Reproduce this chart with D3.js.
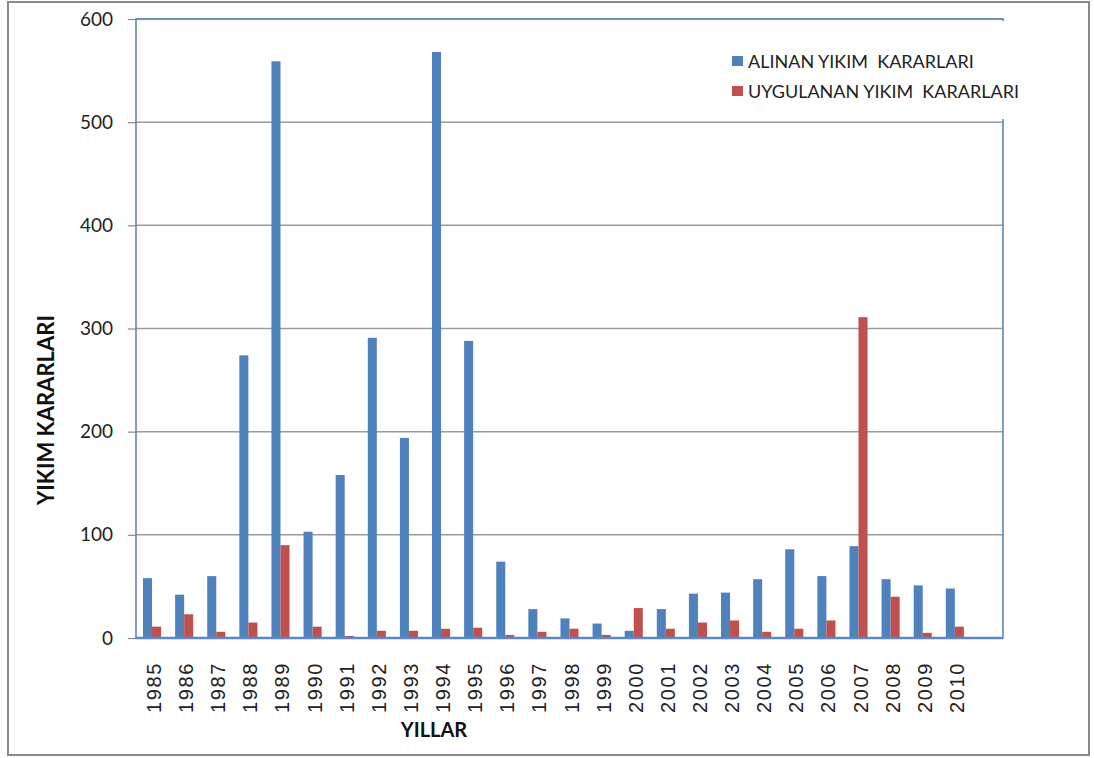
<!DOCTYPE html>
<html>
<head>
<meta charset="utf-8">
<script src="https://cdn.jsdelivr.net/npm/d3@7/dist/d3.min.js"></script>
<style>
  html, body { margin: 0; padding: 0; background: #fff; }
  svg { display: block; }
</style>
</head>
<body>
<svg id="chart" width="1094" height="758"></svg>
<script>
// Demolition decisions per year
const years = [1985, 1986, 1987, 1988, 1989, 1990, 1991, 1992, 1993, 1994, 1995, 1996, 1997,
               1998, 1999, 2000, 2001, 2002, 2003, 2004, 2005, 2006, 2007, 2008, 2009, 2010];
const alinan = [58, 42, 60, 274, 559, 103, 158, 291, 194, 568, 288, 74, 28,
                19, 14, 7, 28, 43, 44, 57, 86, 60, 89, 57, 51, 48];
const uygulanan = [11, 23, 6, 15, 90, 11, 2, 7, 7, 9, 10, 3, 6,
                   9, 3, 29, 9, 15, 17, 6, 9, 17, 311, 40, 5, 11];
const seriesNames = ["ALINAN YIKIM  KARARLARI", "UYGULANAN YIKIM  KARARLARI"];
const seriesColors = ["#4f81bd", "#c0504d"];
const yTicks = [0, 100, 200, 300, 400, 500, 600];

const svg = d3.select("#chart");
const plot = { left: 136, top: 19, right: 1003, bottom: 638 };

// outer frame
svg.append("rect")
  .attr("x", 8).attr("y", 2).attr("width", 1081).attr("height", 753)
  .attr("fill", "#fff").attr("stroke", "#8a8a8a").attr("stroke-width", 2);

// one trailing empty slot after the last year
const slots = [...years.map(String), "_"];
const x = d3.scaleBand().domain(slots)
  .range([plot.left, plot.right])
  .paddingInner(0.437).paddingOuter(0.218);
const xs = d3.scaleBand().domain([0, 1]).range([0, x.bandwidth()]);
const y = d3.scaleLinear().domain([0, 600]).range([plot.bottom, plot.top]);

// gridlines
svg.append("g").selectAll("line").data(yTicks.filter(t => t > 0)).join("line")
  .attr("x1", plot.left).attr("x2", plot.right)
  .attr("y1", d => y(d)).attr("y2", d => y(d))
  .attr("stroke", "#9a9a9a").attr("stroke-width", 1.5);

// y axis ticks and labels
const yAxis = d3.axisLeft(y).tickValues(yTicks).tickSize(8).tickPadding(15);
const gy = svg.append("g").attr("transform", `translate(${plot.left},0)`).call(yAxis);
gy.select(".domain").remove();
gy.selectAll(".tick line").attr("stroke", "#8a8a8a").attr("stroke-width", 1.2);
gy.selectAll(".tick text")
  .attr("font-family", "Lato, 'Open Sans', sans-serif")
  .attr("font-size", 19).attr("fill", "#222");

// bars
const groups = svg.append("g").selectAll("g").data(years).join("g")
  .attr("transform", d => `translate(${x(String(d))},0)`);
[alinan, uygulanan].forEach((vals, si) => {
  groups.append("rect")
    .attr("x", xs(si))
    .attr("width", xs.bandwidth())
    .attr("y", (d, i) => y(vals[i]))
    .attr("height", (d, i) => y(0) - y(vals[i]))
    .attr("fill", seriesColors[si]);
});

// plot border
svg.append("rect")
  .attr("x", plot.left).attr("y", plot.top)
  .attr("width", plot.right - plot.left).attr("height", plot.bottom - plot.top)
  .attr("fill", "none").attr("stroke", "#5b87c2").attr("stroke-width", 1.6);
svg.append("line")
  .attr("x1", plot.left).attr("x2", plot.right)
  .attr("y1", plot.bottom).attr("y2", plot.bottom)
  .attr("stroke", "#5b87c2").attr("stroke-width", 2.5);

// x axis labels
const xAxis = d3.axisBottom(x).tickValues(years.map(String)).tickSize(0).tickPadding(0);
const gx = svg.append("g").attr("transform", `translate(0,${plot.bottom})`).call(xAxis);
gx.select(".domain").remove();
gx.selectAll(".tick text")
  .attr("font-family", "'Liberation Sans', Arial, sans-serif")
  .attr("font-size", 20).attr("letter-spacing", 1.6).attr("fill", "#222")
  .attr("text-anchor", "end")
  .attr("transform", "translate(2,24) rotate(-90)")
  .attr("x", 0).attr("y", 0).attr("dy", "0.35em");

// legend
svg.append("rect")
  .attr("x", 700).attr("y", 21).attr("width", 312).attr("height", 98)
  .attr("fill", "#fff");
const legend = svg.append("g").selectAll("g").data(seriesNames).join("g")
  .attr("transform", (d, i) => `translate(732,${56 + i * 30})`);
legend.append("rect").attr("width", 11).attr("height", 10)
  .attr("fill", (d, i) => seriesColors[i]);
legend.append("text").attr("x", 16).attr("y", 12)
  .attr("font-family", "Lato, 'Open Sans', sans-serif")
  .attr("font-size", 18).attr("fill", "#222")
  .style("white-space", "pre")
  .text(d => d);

// axis titles
svg.append("text")
  .attr("x", 434).attr("y", 737)
  .attr("text-anchor", "middle")
  .attr("font-family", "Lato, sans-serif").attr("font-weight", "bold")
  .attr("font-size", 20).attr("fill", "#111")
  .text("YILLAR");
svg.append("text")
  .attr("transform", "translate(54,410) rotate(-90)")
  .attr("text-anchor", "middle")
  .attr("font-family", "Lato, sans-serif").attr("font-weight", "bold")
  .attr("font-size", 22).attr("fill", "#111")
  .text("YIKIM KARARLARI");
</script>
</body>
</html>
